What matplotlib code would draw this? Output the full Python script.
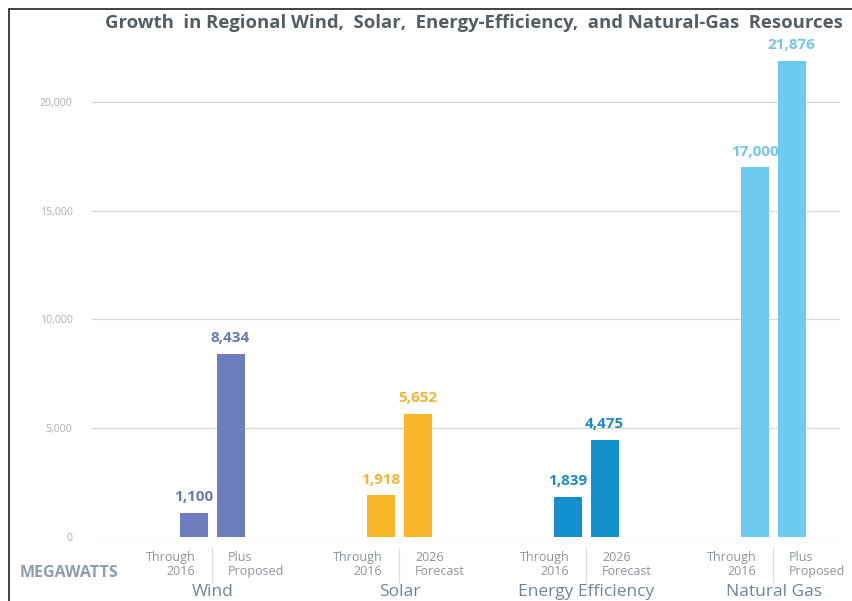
import numpy as np
import matplotlib.pyplot as plt
from matplotlib.patches import Rectangle

categories = ['Wind', 'Solar', 'Energy Efficiency', 'Natural Gas']
first_values = [1100, 1918, 1839, 17000]
second_values = [8434, 5652, 4475, 21876]
first_labels = ['Through\n2016'] * 4
second_labels = ['Plus\nProposed', '2026\nForecast', '2026\nForecast', 'Plus\nProposed']
yticks = [0, 5000, 10000, 15000, 20000]
colors = ['#6c7cbd', '#f8b628', '#1590cf', '#6ccbf1']
label_colors = ['#6a78b2', '#f2b631', '#1a8bc8', '#72c6ea']

plt.rcParams['font.family'] = ['Open Sans', 'DejaVu Sans']

fig = plt.figure(figsize=(8.53, 6.01), dpi=100)
W, H = 853, 601
ax = fig.add_axes([92 / W, (H - 537) / H, 748 / W, (537 - 47.6) / H])

# frame on left and top edges of the image
fig.patches.append(Rectangle((9 / W, -0.1), 1.2, (H - 9) / H + 0.1, transform=fig.transFigure,
                             fill=False, edgecolor='#222222', linewidth=1.2))

x = np.arange(len(categories))
bw = 0.15
off = 0.099

for i in range(len(categories)):
    for xi, v in [(x[i] - off, first_values[i]), (x[i] + off, second_values[i])]:
        ax.bar(xi, v, width=bw, color=colors[i], zorder=3)
        ax.text(xi, v + 400, f'{v:,}', ha='center', va='bottom', fontsize=11,
                fontweight='bold', color=label_colors[i], zorder=4)

ax.set_xlim(-0.642, 3.358)
ax.set_ylim(0, 22500)
ax.set_yticks(yticks)
ax.set_yticklabels([f'{t:,}' for t in yticks], fontsize=7.6, color='#a9b0b6')
ax.tick_params(axis='y', length=0, pad=14)
ax.set_xticks([])
ax.grid(axis='y', color='#d8d8d8', linewidth=0.9, zorder=0)
for s in ax.spines.values():
    s.set_visible(False)

# group labels below axis
tr = ax.get_xaxis_transform()
for i in range(len(categories)):
    ax.text(x[i] - 0.09, -0.028, first_labels[i], transform=tr,
            ha='right', va='top', fontsize=9, color='#8c949b', linespacing=1.1)
    ax.text(x[i] + 0.085, -0.028, second_labels[i], transform=tr,
            ha='left', va='top', fontsize=9, color='#8c949b', linespacing=1.1)
    ax.plot([x[i], x[i]], [-0.022, -0.092], transform=tr,
            color='#dddddd', linewidth=0.9, clip_on=False)
    fig.text((92 + (x[i] + 0.645) * 187) / W, 0.5 / H, categories[i],
             ha='center', va='bottom', fontsize=12.5, color='#6f8597')

fig.text(20 / W, 1 - 573 / H, 'MEGAWATTS', ha='left', va='center', fontsize=11.5,
         fontweight='bold', color='#8d9eac')

fig.text(474 / W, 1 - 23 / H,
         'Growth  in Regional Wind,  Solar,  Energy-Efficiency,  and Natural-Gas  Resources',
         ha='center', va='center', fontsize=13.3, fontweight='bold', color='#525d66')

fig.savefig('out.png', dpi=100, facecolor='white')
